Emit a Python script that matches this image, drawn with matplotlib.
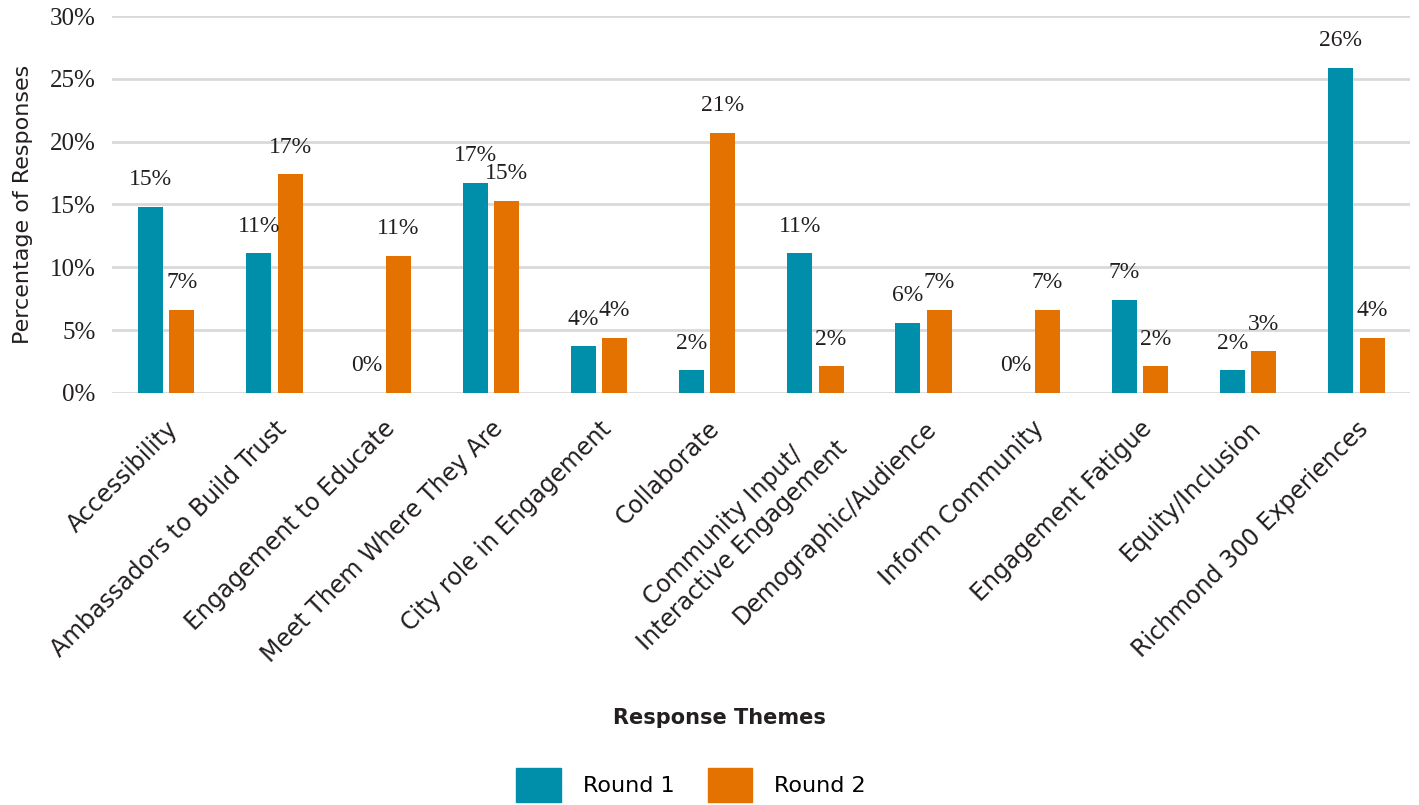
import numpy as np
import matplotlib
matplotlib.use("Agg")
import matplotlib.pyplot as plt
from matplotlib.patches import Patch

categories = ["Accessibility", "Ambassadors to Build Trust", "Engagement to Educate",
              "Meet Them Where They Are", "City role in Engagement", "Collaborate",
              "Community Input/\nInteractive Engagement", "Demographic/Audience",
              "Inform Community", "Engagement Fatigue", "Equity/Inclusion",
              "Richmond 300 Experiences"]
round1 = [14.8, 11.1, 0.0, 16.7, 3.7, 1.8, 11.1, 5.6, 0.0, 7.4, 1.8, 25.9]
round2 = [6.6, 17.4, 10.9, 15.3, 4.4, 20.7, 2.1, 6.6, 6.6, 2.1, 3.3, 4.4]
yticks = [0, 5, 10, 15, 20, 25, 30]

c1 = "#008FAB"
c2 = "#E37200"
sans = "DejaVu Sans"
serif = "Liberation Serif"
txt = "#231F20"

fig = plt.figure(figsize=(14.19, 8.05), dpi=100)
ax = fig.add_axes([0.079, 0.512, 0.915, 0.468])

x = np.arange(len(categories))
w = 0.23
off = 0.145
b1 = ax.bar(x - off, round1, w, color=c1, zorder=3)
b2 = ax.bar(x + off, round2, w, color=c2, zorder=3)

for bars, vals in ((b1, round1), (b2, round2)):
    for b, v in zip(bars, vals):
        ax.annotate(f"{v:.0f}%", (b.get_x() + b.get_width() / 2, v),
                    xytext=(0, 12), textcoords="offset points",
                    ha="center", va="bottom", fontsize=17, family=serif,
                    color=txt, zorder=4)

ax.set_xlim(-0.5, len(categories) - 0.5)
ax.set_ylim(0, 30)
ax.set_yticks(yticks)
ax.set_yticklabels([f"{t}%" for t in yticks], family=serif, fontsize=18, color=txt)
ax.yaxis.grid(True, color="#D9D9D9", lw=2, zorder=0)
ax.tick_params(axis="y", length=0, pad=12)
ax.tick_params(axis="x", length=0, pad=17)
for s in ax.spines.values():
    s.set_visible(False)

ax.set_xticks(x)
ax.set_xticklabels(categories, rotation=45, ha="right", rotation_mode="anchor",
                   multialignment="center", family=sans, fontsize=17, color=txt)
ax.set_ylabel("Percentage of Responses", family=sans, fontsize=16, color=txt, labelpad=12)

fig.text(0.507, 0.108, "Response Themes", ha="center", va="center",
         family=sans, fontsize=15, fontweight="bold", color=txt)

handles = [Patch(color=c1, label="Round 1"), Patch(color=c2, label="Round 2")]
fig.legend(handles=handles, loc="center", bbox_to_anchor=(0.487, 0.025), ncol=2,
           frameon=False, prop={"family": sans, "size": 16},
           handlelength=2.0, handleheight=2.0, columnspacing=1.5, handletextpad=1.0)

fig.savefig("out.png", dpi=100, facecolor="white")
